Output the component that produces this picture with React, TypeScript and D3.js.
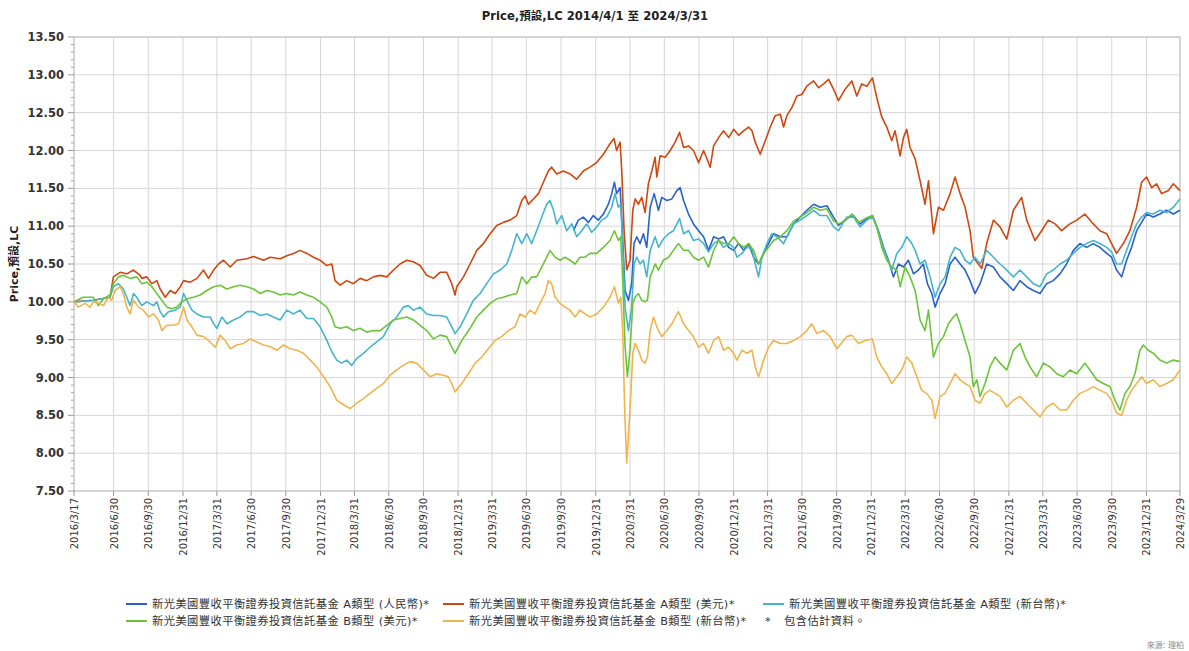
import React from "react";
import * as d3 from "d3";

// ---------- DATA ----------
const titleText = "Price,預設,LC 2014/4/1 至 2024/3/31";
const yAxisTitle = "Price,預設,LC";

const xTickLabels = [
  "2016/3/17", "2016/6/30", "2016/9/30", "2016/12/31",
  "2017/3/31", "2017/6/30", "2017/9/30", "2017/12/31",
  "2018/3/31", "2018/6/30", "2018/9/30", "2018/12/31",
  "2019/3/31", "2019/6/30", "2019/9/30", "2019/12/31",
  "2020/3/31", "2020/6/30", "2020/9/30", "2020/12/31",
  "2021/3/31", "2021/6/30", "2021/9/30", "2021/12/31",
  "2022/3/31", "2022/6/30", "2022/9/30", "2022/12/31",
  "2023/3/31", "2023/6/30", "2023/9/30", "2023/12/31",
  "2024/3/29",
];

const yTicks = [7.5, 8, 8.5, 9, 9.5, 10, 10.5, 11, 11.5, 12, 12.5, 13, 13.5];

const seriesNames = [
  "新光美國豐收平衡證券投資信託基金 A類型 (人民幣)*",
  "新光美國豐收平衡證券投資信託基金 A類型 (美元)*",
  "新光美國豐收平衡證券投資信託基金 A類型 (新台幣)*",
  "新光美國豐收平衡證券投資信託基金 B類型 (美元)*",
  "新光美國豐收平衡證券投資信託基金 B類型 (新台幣)*",
];
const seriesColors = ["#2a62c9", "#d0470f", "#45b5cc", "#6cc43a", "#f0b44c"];
const footnoteStar = "*";
const footnote = "包含估計資料。";
const sourceText = "來源: 理柏";

// [decimal year, price]
const aCNY: [number, number][] = [
  [2019.835, 10.94], [2019.871, 11.08], [2019.907, 11.12], [2019.944, 11.05], [2019.98, 11.14],
  [2020.016, 11.08], [2020.053, 11.16], [2020.089, 11.29], [2020.113, 11.43], [2020.133, 11.58],
  [2020.149, 11.43], [2020.174, 11.51], [2020.19, 10.94], [2020.21, 10.15], [2020.234, 10.02],
  [2020.258, 10.24], [2020.275, 10.77], [2020.295, 10.86], [2020.319, 10.77], [2020.343, 10.9],
  [2020.367, 10.72], [2020.392, 11.25], [2020.421, 11.43], [2020.452, 11.21], [2020.476, 11.38],
  [2020.513, 11.34], [2020.549, 11.36], [2020.585, 11.47], [2020.609, 11.51], [2020.634, 11.34],
  [2020.67, 11.16], [2020.706, 11.03], [2020.743, 10.94], [2020.779, 10.86], [2020.815, 10.68],
  [2020.852, 10.86], [2020.888, 10.83], [2020.924, 10.86], [2020.961, 10.72], [2020.997, 10.68],
  [2021.033, 10.77], [2021.069, 10.68], [2021.106, 10.77], [2021.142, 10.59], [2021.178, 10.5],
  [2021.215, 10.64], [2021.251, 10.77], [2021.287, 10.9], [2021.336, 10.86], [2021.384, 10.86],
  [2021.433, 11.03], [2021.481, 11.12], [2021.529, 11.21], [2021.578, 11.29], [2021.626, 11.25],
  [2021.675, 11.27], [2021.723, 11.12], [2021.759, 11.01], [2021.819, 11.1], [2021.868, 11.14],
  [2021.916, 11.03], [2021.965, 11.1], [2022.006, 11.14], [2022.049, 10.94], [2022.086, 10.72],
  [2022.122, 10.55], [2022.158, 10.33], [2022.195, 10.5], [2022.231, 10.46], [2022.267, 10.55],
  [2022.304, 10.37], [2022.34, 10.42], [2022.376, 10.5], [2022.405, 10.24], [2022.437, 10.11],
  [2022.461, 9.93], [2022.497, 10.11], [2022.534, 10.24], [2022.57, 10.5], [2022.606, 10.59],
  [2022.643, 10.5], [2022.679, 10.42], [2022.715, 10.28], [2022.751, 10.11], [2022.788, 10.24],
  [2022.836, 10.5], [2022.885, 10.46], [2022.933, 10.33], [2022.982, 10.24], [2023.03, 10.15],
  [2023.078, 10.28], [2023.127, 10.2], [2023.175, 10.15], [2023.224, 10.11], [2023.272, 10.24],
  [2023.32, 10.28], [2023.369, 10.37], [2023.417, 10.5], [2023.466, 10.68], [2023.514, 10.77],
  [2023.563, 10.72], [2023.611, 10.77], [2023.659, 10.72], [2023.708, 10.64], [2023.744, 10.59],
  [2023.78, 10.42], [2023.817, 10.33], [2023.853, 10.55], [2023.889, 10.72], [2023.926, 10.94],
  [2023.962, 11.05], [2023.998, 11.16], [2024.047, 11.12], [2024.095, 11.16], [2024.143, 11.21],
  [2024.192, 11.16], [2024.24, 11.21],
];

const aUSD: [number, number][] = [
  [2016.208, 10.0], [2016.348, 10.02], [2016.469, 10.06], [2016.493, 10.33], [2016.542, 10.39],
  [2016.59, 10.37], [2016.639, 10.42], [2016.687, 10.35], [2016.699, 10.31], [2016.735, 10.33],
  [2016.772, 10.24], [2016.808, 10.28], [2016.832, 10.17], [2016.869, 10.06], [2016.905, 10.15],
  [2016.941, 10.11], [2016.978, 10.2], [2017.002, 10.28], [2017.05, 10.26], [2017.099, 10.31],
  [2017.147, 10.42], [2017.183, 10.31], [2017.22, 10.42], [2017.256, 10.5], [2017.292, 10.55],
  [2017.341, 10.46], [2017.389, 10.55], [2017.462, 10.57], [2017.51, 10.6], [2017.583, 10.55],
  [2017.631, 10.59], [2017.704, 10.57], [2017.752, 10.61], [2017.801, 10.64], [2017.849, 10.68],
  [2017.898, 10.64], [2017.946, 10.59], [2017.994, 10.55], [2018.043, 10.48], [2018.079, 10.5],
  [2018.103, 10.28], [2018.14, 10.22], [2018.188, 10.28], [2018.236, 10.24], [2018.285, 10.31],
  [2018.333, 10.28], [2018.382, 10.33], [2018.43, 10.35], [2018.479, 10.33], [2018.527, 10.42],
  [2018.575, 10.5], [2018.624, 10.55], [2018.672, 10.53], [2018.721, 10.48], [2018.769, 10.35],
  [2018.818, 10.31], [2018.866, 10.39], [2018.914, 10.39], [2018.951, 10.24], [2018.975, 10.09],
  [2018.987, 10.2], [2019.036, 10.33], [2019.084, 10.5], [2019.133, 10.68], [2019.181, 10.77],
  [2019.23, 10.9], [2019.278, 11.01], [2019.326, 11.05], [2019.375, 11.08], [2019.423, 11.14],
  [2019.46, 11.34], [2019.484, 11.4], [2019.508, 11.29], [2019.544, 11.36], [2019.581, 11.43],
  [2019.617, 11.58], [2019.653, 11.73], [2019.677, 11.78], [2019.714, 11.69], [2019.762, 11.73],
  [2019.811, 11.69], [2019.859, 11.62], [2019.907, 11.73], [2019.956, 11.78], [2020.004, 11.84],
  [2020.053, 11.95], [2020.101, 12.09], [2020.13, 12.16], [2020.149, 12.0], [2020.174, 12.11],
  [2020.186, 11.73], [2020.203, 10.94], [2020.222, 10.42], [2020.246, 10.55], [2020.266, 11.21],
  [2020.283, 11.36], [2020.307, 11.29], [2020.331, 11.38], [2020.355, 11.18], [2020.379, 11.56],
  [2020.404, 11.73], [2020.428, 11.91], [2020.44, 11.65], [2020.464, 11.93], [2020.501, 11.91],
  [2020.537, 12.0], [2020.573, 12.11], [2020.605, 12.24], [2020.634, 12.04], [2020.67, 12.06],
  [2020.706, 12.0], [2020.743, 11.84], [2020.779, 12.0], [2020.803, 11.89], [2020.827, 11.78],
  [2020.852, 12.06], [2020.888, 12.17], [2020.924, 12.26], [2020.961, 12.17], [2020.997, 12.28],
  [2021.033, 12.2], [2021.069, 12.26], [2021.106, 12.31], [2021.13, 12.26], [2021.154, 12.11],
  [2021.19, 11.95], [2021.227, 12.13], [2021.263, 12.31], [2021.299, 12.46], [2021.336, 12.48],
  [2021.36, 12.31], [2021.384, 12.46], [2021.421, 12.57], [2021.457, 12.72], [2021.493, 12.74],
  [2021.529, 12.85], [2021.578, 12.92], [2021.614, 12.83], [2021.651, 12.88], [2021.687, 12.94],
  [2021.723, 12.81], [2021.759, 12.66], [2021.807, 12.81], [2021.856, 12.92], [2021.892, 12.72],
  [2021.928, 12.88], [2021.965, 12.85], [2022.006, 12.96], [2022.037, 12.7], [2022.074, 12.44],
  [2022.11, 12.31], [2022.146, 12.13], [2022.17, 12.26], [2022.207, 11.93], [2022.231, 12.17],
  [2022.255, 12.28], [2022.279, 12.04], [2022.316, 11.89], [2022.352, 11.6], [2022.388, 11.29],
  [2022.413, 11.6], [2022.449, 10.9], [2022.485, 11.25], [2022.522, 11.21], [2022.57, 11.43],
  [2022.606, 11.65], [2022.643, 11.43], [2022.679, 11.25], [2022.715, 10.94], [2022.739, 10.59],
  [2022.776, 10.5], [2022.8, 10.44], [2022.836, 10.77], [2022.885, 11.08], [2022.933, 10.99],
  [2022.982, 10.83], [2023.03, 11.21], [2023.09, 11.38], [2023.127, 11.08], [2023.187, 10.81],
  [2023.236, 10.94], [2023.284, 11.08], [2023.333, 11.03], [2023.381, 10.94], [2023.441, 11.03],
  [2023.49, 11.08], [2023.55, 11.16], [2023.611, 11.03], [2023.659, 10.94], [2023.708, 10.9],
  [2023.744, 10.77], [2023.78, 10.64], [2023.829, 10.77], [2023.877, 10.94], [2023.926, 11.25],
  [2023.962, 11.58], [2023.998, 11.65], [2024.035, 11.51], [2024.071, 11.56], [2024.107, 11.43],
  [2024.156, 11.47], [2024.192, 11.56], [2024.24, 11.47],
];

const aTWD: [number, number][] = [
  [2016.208, 10.0], [2016.348, 10.02], [2016.469, 10.06], [2016.493, 10.2], [2016.53, 10.24],
  [2016.566, 10.17], [2016.59, 10.06], [2016.614, 9.95], [2016.639, 10.11], [2016.663, 10.06],
  [2016.699, 9.95], [2016.735, 10.0], [2016.784, 9.95], [2016.808, 10.0], [2016.832, 9.87],
  [2016.857, 9.8], [2016.893, 9.87], [2016.941, 9.89], [2016.978, 9.93], [2017.002, 10.11],
  [2017.026, 10.02], [2017.062, 9.89], [2017.099, 9.84], [2017.147, 9.8], [2017.195, 9.8],
  [2017.22, 9.71], [2017.244, 9.65], [2017.28, 9.8], [2017.317, 9.71], [2017.365, 9.76],
  [2017.413, 9.8], [2017.462, 9.87], [2017.51, 9.87], [2017.559, 9.82], [2017.607, 9.84],
  [2017.655, 9.8], [2017.704, 9.76], [2017.752, 9.89], [2017.801, 9.84], [2017.849, 9.89],
  [2017.898, 9.78], [2017.946, 9.78], [2017.994, 9.67], [2018.043, 9.49], [2018.079, 9.34],
  [2018.115, 9.23], [2018.152, 9.19], [2018.188, 9.23], [2018.224, 9.16], [2018.26, 9.25],
  [2018.309, 9.32], [2018.357, 9.4], [2018.406, 9.47], [2018.454, 9.54], [2018.503, 9.71],
  [2018.551, 9.8], [2018.599, 9.93], [2018.636, 9.95], [2018.672, 9.89], [2018.721, 9.93],
  [2018.769, 9.84], [2018.818, 9.82], [2018.866, 9.82], [2018.914, 9.8], [2018.951, 9.67],
  [2018.975, 9.58], [2019.012, 9.67], [2019.06, 9.84], [2019.108, 10.02], [2019.157, 10.11],
  [2019.205, 10.24], [2019.254, 10.37], [2019.302, 10.42], [2019.351, 10.5], [2019.387, 10.68],
  [2019.423, 10.9], [2019.46, 10.77], [2019.496, 10.9], [2019.532, 10.77], [2019.568, 10.94],
  [2019.605, 11.12], [2019.641, 11.29], [2019.665, 11.34], [2019.69, 11.21], [2019.714, 11.03],
  [2019.75, 11.14], [2019.786, 10.94], [2019.823, 11.03], [2019.859, 10.86], [2019.895, 10.94],
  [2019.932, 11.03], [2019.968, 10.92], [2020.004, 10.99], [2020.041, 11.08], [2020.077, 11.12],
  [2020.113, 11.25], [2020.137, 11.43], [2020.162, 11.25], [2020.179, 11.29], [2020.193, 10.72],
  [2020.21, 9.93], [2020.234, 9.62], [2020.258, 9.93], [2020.275, 10.5], [2020.295, 10.59],
  [2020.319, 10.5], [2020.343, 10.55], [2020.367, 10.33], [2020.392, 10.68], [2020.428, 10.86],
  [2020.452, 10.72], [2020.488, 10.83], [2020.525, 10.9], [2020.561, 10.94], [2020.605, 11.1],
  [2020.634, 10.9], [2020.67, 10.94], [2020.706, 10.81], [2020.743, 10.83], [2020.779, 10.77],
  [2020.815, 10.66], [2020.852, 10.77], [2020.888, 10.81], [2020.924, 10.72], [2020.961, 10.77],
  [2020.997, 10.72], [2021.021, 10.59], [2021.057, 10.64], [2021.094, 10.72], [2021.13, 10.7],
  [2021.154, 10.5], [2021.178, 10.33], [2021.203, 10.59], [2021.239, 10.77], [2021.275, 10.9],
  [2021.312, 10.86], [2021.36, 10.77], [2021.396, 10.9], [2021.433, 11.03], [2021.481, 11.08],
  [2021.529, 11.14], [2021.578, 11.21], [2021.626, 11.14], [2021.675, 11.14], [2021.723, 10.99],
  [2021.759, 10.94], [2021.819, 11.12], [2021.868, 11.12], [2021.916, 10.99], [2021.965, 11.08],
  [2022.006, 11.12], [2022.037, 10.99], [2022.074, 10.77], [2022.11, 10.59], [2022.146, 10.42],
  [2022.183, 10.64], [2022.219, 10.72], [2022.255, 10.86], [2022.292, 10.77], [2022.316, 10.68],
  [2022.352, 10.5], [2022.388, 10.55], [2022.425, 10.33], [2022.461, 10.06], [2022.497, 10.24],
  [2022.534, 10.33], [2022.57, 10.59], [2022.606, 10.72], [2022.643, 10.68], [2022.679, 10.55],
  [2022.715, 10.5], [2022.751, 10.59], [2022.788, 10.5], [2022.836, 10.68], [2022.885, 10.59],
  [2022.933, 10.5], [2022.982, 10.42], [2023.03, 10.33], [2023.078, 10.42], [2023.127, 10.33],
  [2023.175, 10.24], [2023.224, 10.2], [2023.272, 10.37], [2023.32, 10.42], [2023.369, 10.5],
  [2023.417, 10.55], [2023.466, 10.64], [2023.514, 10.72], [2023.563, 10.77], [2023.611, 10.81],
  [2023.659, 10.77], [2023.708, 10.72], [2023.744, 10.66], [2023.78, 10.5], [2023.817, 10.5],
  [2023.853, 10.68], [2023.889, 10.86], [2023.926, 11.03], [2023.962, 11.12], [2023.998, 11.18],
  [2024.047, 11.16], [2024.095, 11.21], [2024.143, 11.18], [2024.192, 11.25], [2024.24, 11.36],
];

const bUSD: [number, number][] = [
  [2016.208, 10.0], [2016.275, 10.06], [2016.348, 10.06], [2016.384, 9.95], [2016.421, 10.04],
  [2016.469, 10.09], [2016.493, 10.24], [2016.53, 10.33], [2016.566, 10.35], [2016.614, 10.31],
  [2016.663, 10.33], [2016.699, 10.24], [2016.735, 10.26], [2016.772, 10.2], [2016.808, 10.11],
  [2016.844, 10.02], [2016.881, 9.93], [2016.917, 9.91], [2016.953, 9.93], [2016.99, 10.0],
  [2017.026, 10.04], [2017.074, 10.06], [2017.123, 10.09], [2017.171, 10.15], [2017.22, 10.2],
  [2017.268, 10.22], [2017.317, 10.17], [2017.365, 10.2], [2017.413, 10.22], [2017.462, 10.2],
  [2017.51, 10.17], [2017.559, 10.11], [2017.607, 10.15], [2017.655, 10.13], [2017.704, 10.09],
  [2017.752, 10.11], [2017.801, 10.09], [2017.849, 10.13], [2017.898, 10.09], [2017.946, 10.06],
  [2017.994, 10.0], [2018.043, 9.93], [2018.079, 9.8], [2018.103, 9.67], [2018.14, 9.65],
  [2018.188, 9.67], [2018.236, 9.62], [2018.285, 9.65], [2018.333, 9.6], [2018.382, 9.62],
  [2018.43, 9.62], [2018.479, 9.69], [2018.527, 9.76], [2018.575, 9.78], [2018.624, 9.8],
  [2018.672, 9.76], [2018.721, 9.69], [2018.769, 9.62], [2018.818, 9.51], [2018.866, 9.56],
  [2018.914, 9.54], [2018.951, 9.4], [2018.975, 9.32], [2019.024, 9.49], [2019.084, 9.65],
  [2019.133, 9.8], [2019.181, 9.89], [2019.23, 9.98], [2019.278, 10.04], [2019.326, 10.06],
  [2019.375, 10.09], [2019.423, 10.11], [2019.46, 10.33], [2019.496, 10.24], [2019.532, 10.33],
  [2019.568, 10.33], [2019.605, 10.46], [2019.641, 10.59], [2019.665, 10.68], [2019.702, 10.59],
  [2019.738, 10.55], [2019.774, 10.59], [2019.811, 10.55], [2019.847, 10.5], [2019.883, 10.59],
  [2019.92, 10.59], [2019.956, 10.64], [2020.004, 10.64], [2020.053, 10.72], [2020.101, 10.81],
  [2020.133, 10.94], [2020.162, 10.81], [2020.179, 10.86], [2020.193, 10.28], [2020.21, 9.41],
  [2020.227, 9.01], [2020.246, 9.36], [2020.266, 9.98], [2020.283, 10.06], [2020.307, 10.11],
  [2020.331, 10.02], [2020.355, 10.0], [2020.372, 10.02], [2020.392, 10.33], [2020.428, 10.5],
  [2020.452, 10.42], [2020.488, 10.55], [2020.525, 10.59], [2020.561, 10.68], [2020.597, 10.77],
  [2020.634, 10.68], [2020.67, 10.68], [2020.706, 10.59], [2020.743, 10.55], [2020.779, 10.59],
  [2020.815, 10.46], [2020.852, 10.68], [2020.888, 10.81], [2020.924, 10.77], [2020.961, 10.77],
  [2020.997, 10.86], [2021.033, 10.77], [2021.069, 10.72], [2021.106, 10.77], [2021.142, 10.68],
  [2021.178, 10.5], [2021.215, 10.64], [2021.251, 10.72], [2021.287, 10.81], [2021.336, 10.86],
  [2021.384, 10.94], [2021.433, 11.07], [2021.481, 11.12], [2021.529, 11.18], [2021.578, 11.25],
  [2021.626, 11.21], [2021.675, 11.23], [2021.723, 11.07], [2021.759, 11.03], [2021.807, 11.07],
  [2021.856, 11.16], [2021.904, 11.05], [2021.953, 11.1], [2022.006, 11.14], [2022.037, 10.99],
  [2022.074, 10.72], [2022.11, 10.55], [2022.146, 10.46], [2022.183, 10.42], [2022.207, 10.2],
  [2022.243, 10.46], [2022.279, 10.33], [2022.316, 10.15], [2022.352, 9.76], [2022.388, 9.62],
  [2022.413, 9.89], [2022.449, 9.27], [2022.485, 9.45], [2022.522, 9.54], [2022.558, 9.71],
  [2022.594, 9.8], [2022.618, 9.84], [2022.643, 9.71], [2022.679, 9.49], [2022.715, 9.27],
  [2022.739, 8.88], [2022.764, 8.97], [2022.788, 8.75], [2022.824, 8.92], [2022.86, 9.14],
  [2022.897, 9.27], [2022.933, 9.19], [2022.982, 9.1], [2023.03, 9.36], [2023.078, 9.45],
  [2023.115, 9.27], [2023.151, 9.14], [2023.199, 9.01], [2023.248, 9.19], [2023.296, 9.14],
  [2023.345, 9.05], [2023.393, 9.01], [2023.441, 9.1], [2023.49, 9.05], [2023.55, 9.19],
  [2023.587, 9.1], [2023.635, 8.97], [2023.684, 8.92], [2023.732, 8.88], [2023.768, 8.7],
  [2023.805, 8.57], [2023.841, 8.79], [2023.877, 8.88], [2023.914, 9.05], [2023.95, 9.36],
  [2023.974, 9.43], [2024.01, 9.36], [2024.047, 9.32], [2024.095, 9.23], [2024.143, 9.19],
  [2024.192, 9.23], [2024.24, 9.21],
];

const bTWD: [number, number][] = [
  [2016.208, 10.0], [2016.239, 9.93], [2016.288, 9.98], [2016.324, 9.93], [2016.348, 10.0],
  [2016.384, 9.98], [2016.421, 9.95], [2016.457, 10.06], [2016.481, 10.02], [2016.505, 10.15],
  [2016.542, 10.2], [2016.566, 10.11], [2016.59, 9.93], [2016.614, 9.84], [2016.639, 10.02],
  [2016.675, 9.93], [2016.711, 9.89], [2016.748, 9.8], [2016.784, 9.84], [2016.82, 9.76],
  [2016.844, 9.62], [2016.881, 9.69], [2016.929, 9.69], [2016.966, 9.71], [2017.002, 9.93],
  [2017.026, 9.76], [2017.062, 9.67], [2017.099, 9.56], [2017.147, 9.54], [2017.195, 9.47],
  [2017.232, 9.4], [2017.268, 9.56], [2017.304, 9.49], [2017.341, 9.38], [2017.389, 9.43],
  [2017.438, 9.45], [2017.486, 9.51], [2017.534, 9.47], [2017.583, 9.43], [2017.631, 9.41],
  [2017.68, 9.36], [2017.728, 9.43], [2017.777, 9.38], [2017.825, 9.36], [2017.873, 9.32],
  [2017.922, 9.23], [2017.97, 9.14], [2018.019, 9.01], [2018.067, 8.88], [2018.115, 8.7],
  [2018.164, 8.64], [2018.212, 8.59], [2018.26, 8.66], [2018.309, 8.72], [2018.357, 8.79],
  [2018.406, 8.86], [2018.454, 8.92], [2018.503, 9.03], [2018.551, 9.1], [2018.599, 9.16],
  [2018.648, 9.21], [2018.696, 9.19], [2018.745, 9.1], [2018.793, 9.01], [2018.842, 9.05],
  [2018.89, 9.03], [2018.926, 9.01], [2018.951, 8.92], [2018.975, 8.81], [2019.024, 8.92],
  [2019.072, 9.05], [2019.121, 9.19], [2019.169, 9.27], [2019.217, 9.38], [2019.266, 9.49],
  [2019.314, 9.54], [2019.363, 9.62], [2019.411, 9.67], [2019.447, 9.84], [2019.484, 9.8],
  [2019.52, 9.89], [2019.556, 9.84], [2019.593, 9.98], [2019.629, 10.11], [2019.653, 10.28],
  [2019.677, 10.24], [2019.702, 10.06], [2019.738, 9.98], [2019.774, 9.93], [2019.811, 9.89],
  [2019.847, 9.8], [2019.883, 9.89], [2019.92, 9.84], [2019.956, 9.8], [2020.004, 9.84],
  [2020.053, 9.93], [2020.101, 10.06], [2020.133, 10.2], [2020.162, 9.98], [2020.179, 10.06],
  [2020.193, 9.62], [2020.208, 8.52], [2020.222, 7.87], [2020.237, 8.31], [2020.251, 8.75],
  [2020.266, 9.32], [2020.283, 9.45], [2020.307, 9.36], [2020.331, 9.23], [2020.355, 9.19],
  [2020.372, 9.27], [2020.392, 9.62], [2020.416, 9.8], [2020.44, 9.67], [2020.476, 9.54],
  [2020.513, 9.62], [2020.549, 9.71], [2020.597, 9.87], [2020.634, 9.71], [2020.67, 9.62],
  [2020.706, 9.54], [2020.743, 9.4], [2020.779, 9.45], [2020.815, 9.32], [2020.852, 9.49],
  [2020.888, 9.54], [2020.924, 9.36], [2020.961, 9.4], [2020.997, 9.32], [2021.021, 9.23],
  [2021.057, 9.36], [2021.094, 9.32], [2021.13, 9.36], [2021.154, 9.14], [2021.178, 9.01],
  [2021.215, 9.23], [2021.251, 9.4], [2021.287, 9.49], [2021.336, 9.45], [2021.384, 9.45],
  [2021.433, 9.49], [2021.481, 9.54], [2021.529, 9.62], [2021.566, 9.71], [2021.602, 9.58],
  [2021.651, 9.62], [2021.699, 9.54], [2021.747, 9.38], [2021.819, 9.54], [2021.856, 9.56],
  [2021.904, 9.45], [2021.953, 9.49], [2022.006, 9.51], [2022.037, 9.27], [2022.074, 9.14],
  [2022.11, 9.05], [2022.146, 8.92], [2022.183, 9.01], [2022.219, 9.1], [2022.255, 9.27],
  [2022.292, 9.19], [2022.328, 9.01], [2022.364, 8.83], [2022.4, 8.79], [2022.437, 8.7],
  [2022.461, 8.46], [2022.497, 8.75], [2022.534, 8.79], [2022.57, 8.92], [2022.606, 9.05],
  [2022.643, 8.97], [2022.679, 8.92], [2022.715, 8.88], [2022.751, 8.7], [2022.788, 8.66],
  [2022.824, 8.79], [2022.86, 8.83], [2022.897, 8.79], [2022.933, 8.75], [2022.982, 8.61],
  [2023.03, 8.7], [2023.078, 8.75], [2023.127, 8.66], [2023.175, 8.57], [2023.224, 8.48],
  [2023.272, 8.61], [2023.32, 8.66], [2023.369, 8.57], [2023.417, 8.57], [2023.466, 8.7],
  [2023.514, 8.79], [2023.563, 8.83], [2023.611, 8.88], [2023.659, 8.83], [2023.708, 8.79],
  [2023.744, 8.7], [2023.78, 8.53], [2023.817, 8.5], [2023.853, 8.7], [2023.889, 8.83],
  [2023.926, 8.92], [2023.962, 9.01], [2023.998, 8.92], [2024.047, 8.97], [2024.095, 8.88],
  [2024.143, 8.92], [2024.192, 8.97], [2024.24, 9.1],
];

const allSeries = [aCNY, aUSD, aTWD, bUSD, bTWD];

// ---------- HELPERS ----------
function parseLabel(s: string): Date {
  const [y, m, d] = s.split("/").map(Number);
  return new Date(Date.UTC(y, m - 1, d));
}
function yearToDate(t: number): Date {
  const yr = Math.floor(t);
  const a = Date.UTC(yr, 0, 1);
  const b = Date.UTC(yr + 1, 0, 1);
  return new Date(a + (t - yr) * (b - a));
}

const W = 1189;
const H = 651;
const left = 74;
const right = 1180;
const top = 37;
const bottom = 491;

const font = "'DejaVu Sans', 'Noto Sans CJK TC', sans-serif";

export default function App() {
  const x = d3
    .scaleUtc()
    .domain([parseLabel(xTickLabels[0]), parseLabel(xTickLabels[xTickLabels.length - 1])])
    .range([left, right]);
  const y = d3.scaleLinear().domain([7.5, 13.5]).range([bottom, top]);

  const line = d3
    .line<[number, number]>()
    .x((d) => x(yearToDate(d[0])))
    .y((d) => y(d[1]))
    .curve(d3.curveLinear);

  const minorTicks = d3
    .range(75, 136)
    .map((v) => v / 10)
    .filter((v) => Math.abs(v * 2 - Math.round(v * 2)) > 1e-6);

  const legendCols = [126, 443, 763];
  const legendRows = [604, 621];

  return (
    <div style={{ position: "absolute", left: 0, top: 0, width: W, height: H, background: "#fff" }}>
      <svg width={W} height={H} style={{ display: "block" }}>
        <rect x={0} y={0} width={W} height={H} fill="#fff" />
        {/* title */}
        <text x={595} y={20} textAnchor="middle" fontFamily={font} fontWeight="bold" fontSize={11.6} fill="#222">
          {titleText}
        </text>

        {/* grid */}
        {yTicks.map((v) => (
          <line key={"gy" + v} x1={left} x2={right} y1={y(v)} y2={y(v)} stroke="#d6d6d6" strokeWidth={1} />
        ))}
        {xTickLabels.map((s) => (
          <line key={"gx" + s} x1={x(parseLabel(s))} x2={x(parseLabel(s))} y1={top} y2={bottom} stroke="#d6d6d6" strokeWidth={1} />
        ))}
        {/* frame */}
        <rect x={left} y={top} width={right - left} height={bottom - top} fill="none" stroke="#bdbdbd" strokeWidth={1} />

        {/* y axis ticks */}
        {yTicks.map((v) => (
          <g key={"yt" + v}>
            <line x1={left - 6} x2={left} y1={y(v)} y2={y(v)} stroke="#999" />
            <text x={64} y={y(v) + 4} textAnchor="end" fontFamily={font} fontWeight="bold" fontSize={11.5} fill="#333">
              {v.toFixed(2)}
            </text>
          </g>
        ))}
        {minorTicks.map((v) => (
          <line key={"ym" + v} x1={left - 3} x2={left} y1={y(v)} y2={y(v)} stroke="#aaa" />
        ))}
        <text
          transform={`translate(18,${(top + bottom) / 2}) rotate(-90)`}
          textAnchor="middle"
          fontFamily={font}
          fontWeight="bold"
          fontSize={11}
          fill="#222"
        >
          {yAxisTitle}
        </text>

        {/* x axis ticks */}
        {xTickLabels.map((s) => {
          const px = x(parseLabel(s));
          return (
            <g key={"xt" + s}>
              <line x1={px} x2={px} y1={bottom} y2={bottom + 5} stroke="#999" />
              <text
                transform={`translate(${px + 4},${bottom + 7}) rotate(-90)`}
                textAnchor="end"
                fontFamily={font}
                fontSize={10}
                fill="#333"
              >
                {s}
              </text>
            </g>
          );
        })}

        {/* series */}
        {allSeries.map((data, i) => (
          <path key={"s" + i} d={line(data) || ""} fill="none" stroke={seriesColors[i]} strokeWidth={1.6} strokeLinejoin="round" />
        ))}

        {/* legend */}
        {seriesNames.map((name, i) => {
          const col = i < 3 ? i : i - 3;
          const row = i < 3 ? 0 : 1;
          const lx = legendCols[col];
          const ly = legendRows[row];
          return (
            <g key={"lg" + i}>
              <line x1={lx} x2={lx + 21} y1={ly} y2={ly} stroke={seriesColors[i]} strokeWidth={2} />
              <text x={lx + 26} y={ly + 4} fontFamily={font} fontSize={11.3} letterSpacing={0.4} fill="#333">
                {name}
              </text>
            </g>
          );
        })}
        <text x={legendCols[2] + 2} y={legendRows[1] + 4} fontFamily={font} fontSize={11.3} fill="#333">
          {footnoteStar}
        </text>
        <text x={legendCols[2] + 21} y={legendRows[1] + 4} fontFamily={font} fontSize={11.3} letterSpacing={0.4} fill="#333">
          {footnote}
        </text>

        {/* source */}
        <text x={1184} y={648} textAnchor="end" fontFamily={font} fontSize={8} fill="#888">
          {sourceText}
        </text>
      </svg>
    </div>
  );
}
